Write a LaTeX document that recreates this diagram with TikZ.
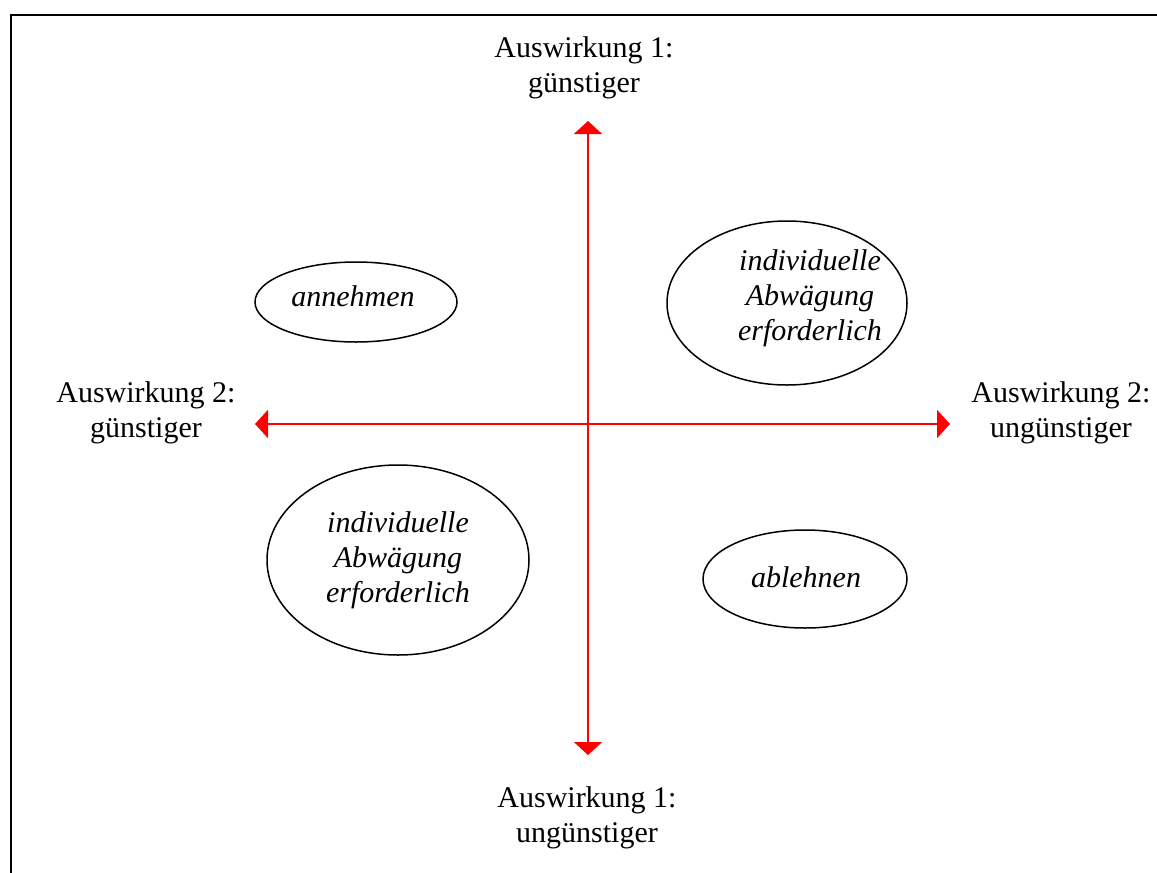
\documentclass[tikz,border=0pt]{standalone}
\usepackage{fontspec}
\setmainfont{Liberation Serif}
\usetikzlibrary{arrows.meta}
\begin{document}
\begin{tikzpicture}[x=1pt,y=-1pt,
  lbl/.style={align=center,inner sep=0pt,anchor=north,font=\fontsize{30}{35}\selectfont},
  itl/.style={align=center,inner sep=0pt,font=\fontsize{30}{35}\selectfont\itshape},
  axis/.style={draw=red,line width=2pt,{Triangle[length=13pt,width=28pt]}-{Triangle[length=13pt,width=28pt]}},
  oval/.style={draw=black,line width=1.5pt},
  frame/.style={draw=black,line width=2.2pt}]
\useasboundingbox (0,0) rectangle (1157,873);
\fill[white] (0,0) rectangle (1157,873);
% frame
\coordinate (fl) at (11,873);
\coordinate (fc) at (11,15);
\coordinate (fr) at (1157,15);
\draw[frame] (fl) -- (fc) -- (fr);
% axes
\coordinate (top) at (588,121);
\coordinate (bot) at (588,755);
\coordinate (lft) at (255,424);
\coordinate (rgt) at (950,424);
\draw[axis] (top) -- (bot);
\draw[axis] (lft) -- (rgt);
% labels
\node[lbl] (ltop) at (584,36.5) {Auswirkung 1:\\günstiger};
\node[lbl] (lbot) at (587,786.5) {Auswirkung 1:\\ungünstiger};
\node[lbl] (llft) at (146,381.5) {Auswirkung 2:\\günstiger};
\node[lbl] (lrgt) at (1061,381.5) {Auswirkung 2:\\ungünstiger};
% ellipses
\draw[oval] (356,302) ellipse (101 and 40);
\draw[oval] (787,303) ellipse (120 and 82);
\draw[oval] (398,560) ellipse (131 and 95);
\draw[oval] (805,579) ellipse (102 and 49);
\node[itl,anchor=base] (ann) at (353,306) {annehmen};
\node[itl,anchor=base] (abl) at (806,587) {ablehnen};
\node[itl,anchor=north] (ind1) at (810,249.5) {individuelle\\Abwägung\\erforderlich};
\node[itl,anchor=north] (ind2) at (398,511.5) {individuelle\\Abwägung\\erforderlich};
\end{tikzpicture}
\end{document}
